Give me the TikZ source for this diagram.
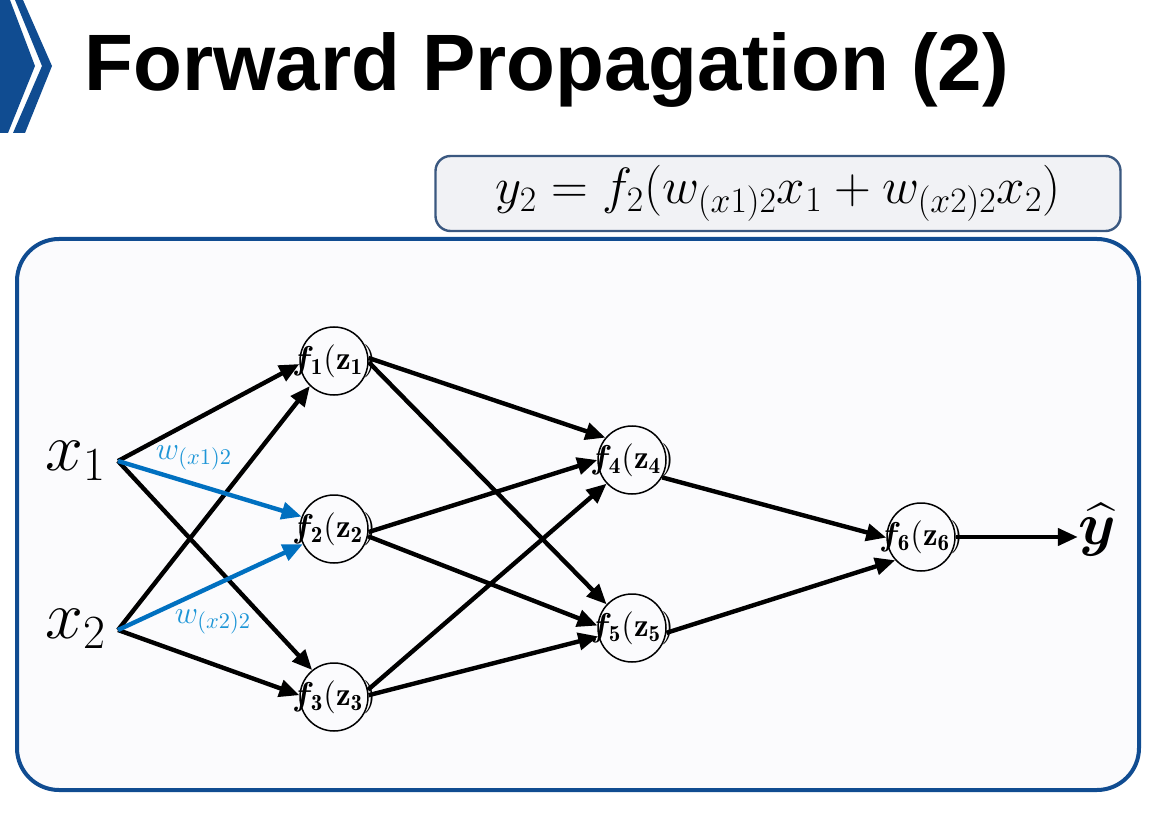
\documentclass[tikz,border=0pt]{standalone}
\usepackage{fix-cm}
\usepackage{amsmath}
\usepackage{bm}
\usepackage{fontspec}
\newfontfamily\titlefont{Liberation Sans}
\usetikzlibrary{arrows.meta,positioning,calc}
\definecolor{slideblue}{RGB}{16,76,145}
\definecolor{boxline}{RGB}{58,88,128}
\definecolor{boxfill}{RGB}{241,242,245}
\definecolor{panelfill}{RGB}{251,251,253}
\definecolor{wblue}{RGB}{0,112,192}
\definecolor{wlabel}{RGB}{30,150,215}
\begin{document}
\begin{tikzpicture}[x=0.5pt,y=-0.5pt,
neuron/.style={circle,draw,line width=0.75pt,minimum size=34pt,inner sep=0pt,
  font=\fontsize{16.5}{19}\selectfont},
conn/.style={line width=2.2pt,-{Triangle[length=10pt,width=8.5pt]}},
wconn/.style={conn,wblue},
wlab/.style={text=wlabel,inner sep=0pt,font=\fontsize{16}{19}\selectfont},
inlab/.style={anchor=base west,inner sep=0pt,font=\fontsize{34}{40}\selectfont}]
\useasboundingbox (0,0) rectangle (1173,818);

% panel and formula box
\draw[slideblue,line width=2pt,fill=panelfill,rounded corners=21pt] (17,239) rectangle (1139,790);
\node (eq) at (778,193.5) [draw=boxline,line width=1.2pt,fill=boxfill,rounded corners=7.5pt,
  minimum width=342.5pt,minimum height=37.5pt,font=\fontsize{25.5}{30}\selectfont]
  {$y_2 = f_2(w_{(x1)2}x_1 + w_{(x2)2}x_2)$};

% header
\fill[slideblue] (0,0) -- (10,0) -- (35,66) -- (8,133) -- (0,133) -- cycle;
\fill[slideblue] (15,0) -- (23,0) -- (52,66) -- (25,133) -- (13,133) -- (42,66) -- cycle;
\node (title) at (84,91) [anchor=base west,inner sep=0pt]
  {\titlefont\bfseries\fontsize{40}{48}\selectfont Forward Propagation (2)};

% inputs
\node (x1) at (45,470) [inlab] {$x_1$};
\node (x2) at (45,638) [inlab] {$x_2$};
\coordinate (in1) at (118,461);
\coordinate (in2) at (118,630);

% neurons
\node (f1) at (334,361) [neuron] {\makebox[0pt]{\raisebox{-3pt}{$\boldsymbol{f}_{\mathbf{1}}(\mathbf{z}_{\mathbf{1}})$}}};
\node (f2) at (334,529) [neuron] {\makebox[0pt]{\raisebox{-3pt}{$\boldsymbol{f}_{\mathbf{2}}(\mathbf{z}_{\mathbf{2}})$}}};
\node (f3) at (334,697) [neuron] {\makebox[0pt]{\raisebox{-3pt}{$\boldsymbol{f}_{\mathbf{3}}(\mathbf{z}_{\mathbf{3}})$}}};
\node (f4) at (632,460) [neuron] {\makebox[0pt]{\raisebox{-3pt}{$\boldsymbol{f}_{\mathbf{4}}(\mathbf{z}_{\mathbf{4}})$}}};
\node (f5) at (632,628) [neuron] {\makebox[0pt]{\raisebox{-3pt}{$\boldsymbol{f}_{\mathbf{5}}(\mathbf{z}_{\mathbf{5}})$}}};
\node (f6) at (921,537) [neuron] {\makebox[0pt]{\raisebox{-3pt}{$\boldsymbol{f}_{\mathbf{6}}(\mathbf{z}_{\mathbf{6}})$}}};
\node (yhat) at (1097,530) [inner sep=0pt,font=\fontsize{30}{34}\selectfont] {$\boldsymbol{\widehat{y}}$};

% input connections
\draw[conn] (in1) -- (f1.185);
\draw[conn] (in1) -- (f3.129);
\draw[conn] (in2) -- (f1.226);
\draw[conn] (in2) -- (f3.177);
\draw[wconn] (in1) -- (f2.159);
\draw[wconn] (in2) -- (f2.206);
\node (w1) at (194,458) [wlab] {$w_{(x1)2}$};
\node (w2) at (213,622) [wlab] {$w_{(x2)2}$};

% hidden connections
\draw[conn] (f1.5) -- (f4.140);
\draw[conn] (f1.358) -- (f5.137);
\draw[conn] (f2.355) -- (f4.180);
\draw[conn] (f2.348) -- (f5.176);
\draw[conn] (f3.12) -- (f4.223);
\draw[conn] (f3.3) -- (f5.194);
\draw[conn] (f4.330) -- (f6.181);
\draw[conn] (f5.352) -- (f6.222);
\draw[conn] (f6.east) -- (f6.east -| yhat.west);

\end{tikzpicture}
\end{document}
